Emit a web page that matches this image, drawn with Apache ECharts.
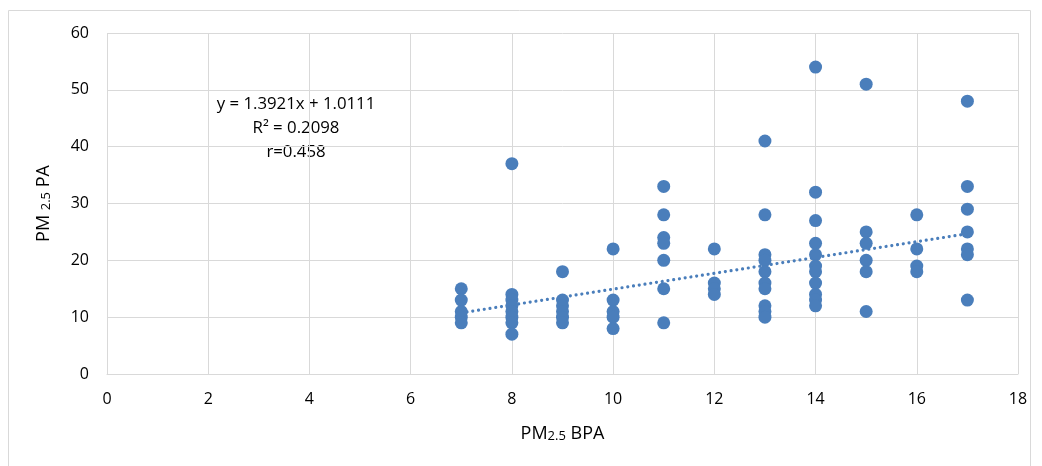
<!DOCTYPE html>
<html>
<head>
<meta charset="utf-8">
<script src="https://cdn.jsdelivr.net/npm/echarts@6/dist/echarts.min.js"></script>
<style>html,body{margin:0;padding:0;background:#fff}#c{width:1042px;height:466px}</style>
</head>
<body>
<div id="c"></div>
<script>
// x categories (PM2.5 BPA) and y values (PM2.5 PA) per x
const xValues = [7, 8, 9, 10, 11, 12, 13, 14, 15, 16, 17];
const yByX = [
  [15, 13, 11, 10, 9],
  [37, 14, 13, 12, 11, 10, 9, 7],
  [18, 13, 12, 11, 10, 9],
  [22, 13, 11, 10, 8],
  [33, 28, 24, 23, 20, 15, 9],
  [22, 16, 15, 14],
  [41, 28, 21, 20, 18, 16, 15, 12, 11, 10],
  [54, 32, 27, 23, 21, 19, 18, 16, 14, 13, 12],
  [51, 25, 23, 20, 18, 11],
  [28, 22, 19, 18],
  [48, 33, 29, 25, 22, 21, 13]
];
const slope = 1.3921;
const intercept = 1.0111;
const trendRange = [7, 17];
const annotation = ['y = 1.3921x + 1.0111', 'R² = 0.2098', 'r=0.458'];

const points = [];
xValues.forEach((x, i) => yByX[i].forEach(y => points.push([x, y])));
const trend = trendRange.map(x => [x, slope * x + intercept]);

const chart = echarts.init(document.getElementById('c'));
const font = '"Open Sans", sans-serif';
chart.setOption({
  animation: false,
  graphic: [{
    type: 'rect', shape: {x: 8.5, y: 10.5, width: 1022, height: 470},
    style: {fill: 'none', stroke: '#d9d9d9', lineWidth: 1}, silent: true
  }, {
    type: 'text', x: 296, y: 92,
    style: {text: annotation.join('\n'), font: '16.8px "Open Sans", sans-serif', fill: '#000', align: 'center', verticalAlign: 'top', lineHeight: 24}
  }],
  grid: {left: 107, right: 24, top: 33, bottom: 92},
  xAxis: {
    type: 'value', min: 0, max: 18, interval: 2,
    axisLine: {show: true, lineStyle: {color: '#d9d9d9'}},
    axisTick: {show: false},
    splitLine: {show: true, lineStyle: {color: '#d9d9d9'}},
    axisLabel: {color: '#000', fontSize: 16, fontFamily: font, margin: 17},
    name: '{a|PM}{s|2.5}{a| BPA}', nameLocation: 'middle', nameGap: 51,
    nameTextStyle: {rich: {a: {fontSize: 18, fontFamily: font, color: '#000'}, s: {fontSize: 13, fontFamily: font, color: '#000', padding: [5, 0, 0, 0]}}}
  },
  yAxis: {
    type: 'value', min: 0, max: 60, interval: 10,
    axisLine: {show: false},
    axisTick: {show: false},
    splitLine: {show: true, lineStyle: {color: '#d9d9d9'}},
    axisLabel: {color: '#000', fontSize: 16, fontFamily: font, margin: 18},
    name: '{a|PM }{s|2.5}{a| PA}', nameLocation: 'middle', nameGap: 54, nameRotate: 90,
    nameTextStyle: {rich: {a: {fontSize: 18, fontFamily: font, color: '#000'}, s: {fontSize: 13, fontFamily: font, color: '#000', padding: [5, 0, 0, 0]}}}
  },
  series: [{
    type: 'scatter', data: points, symbolSize: 13,
    itemStyle: {color: '#4a7ebb', opacity: 1}, z: 3
  }, {
    type: 'line', data: trend, symbol: 'none',
    lineStyle: {color: '#4a7ebb', width: 3.2, type: [0.01, 5.8], cap: 'round'}, z: 2
  }]
});
</script>
</body>
</html>
